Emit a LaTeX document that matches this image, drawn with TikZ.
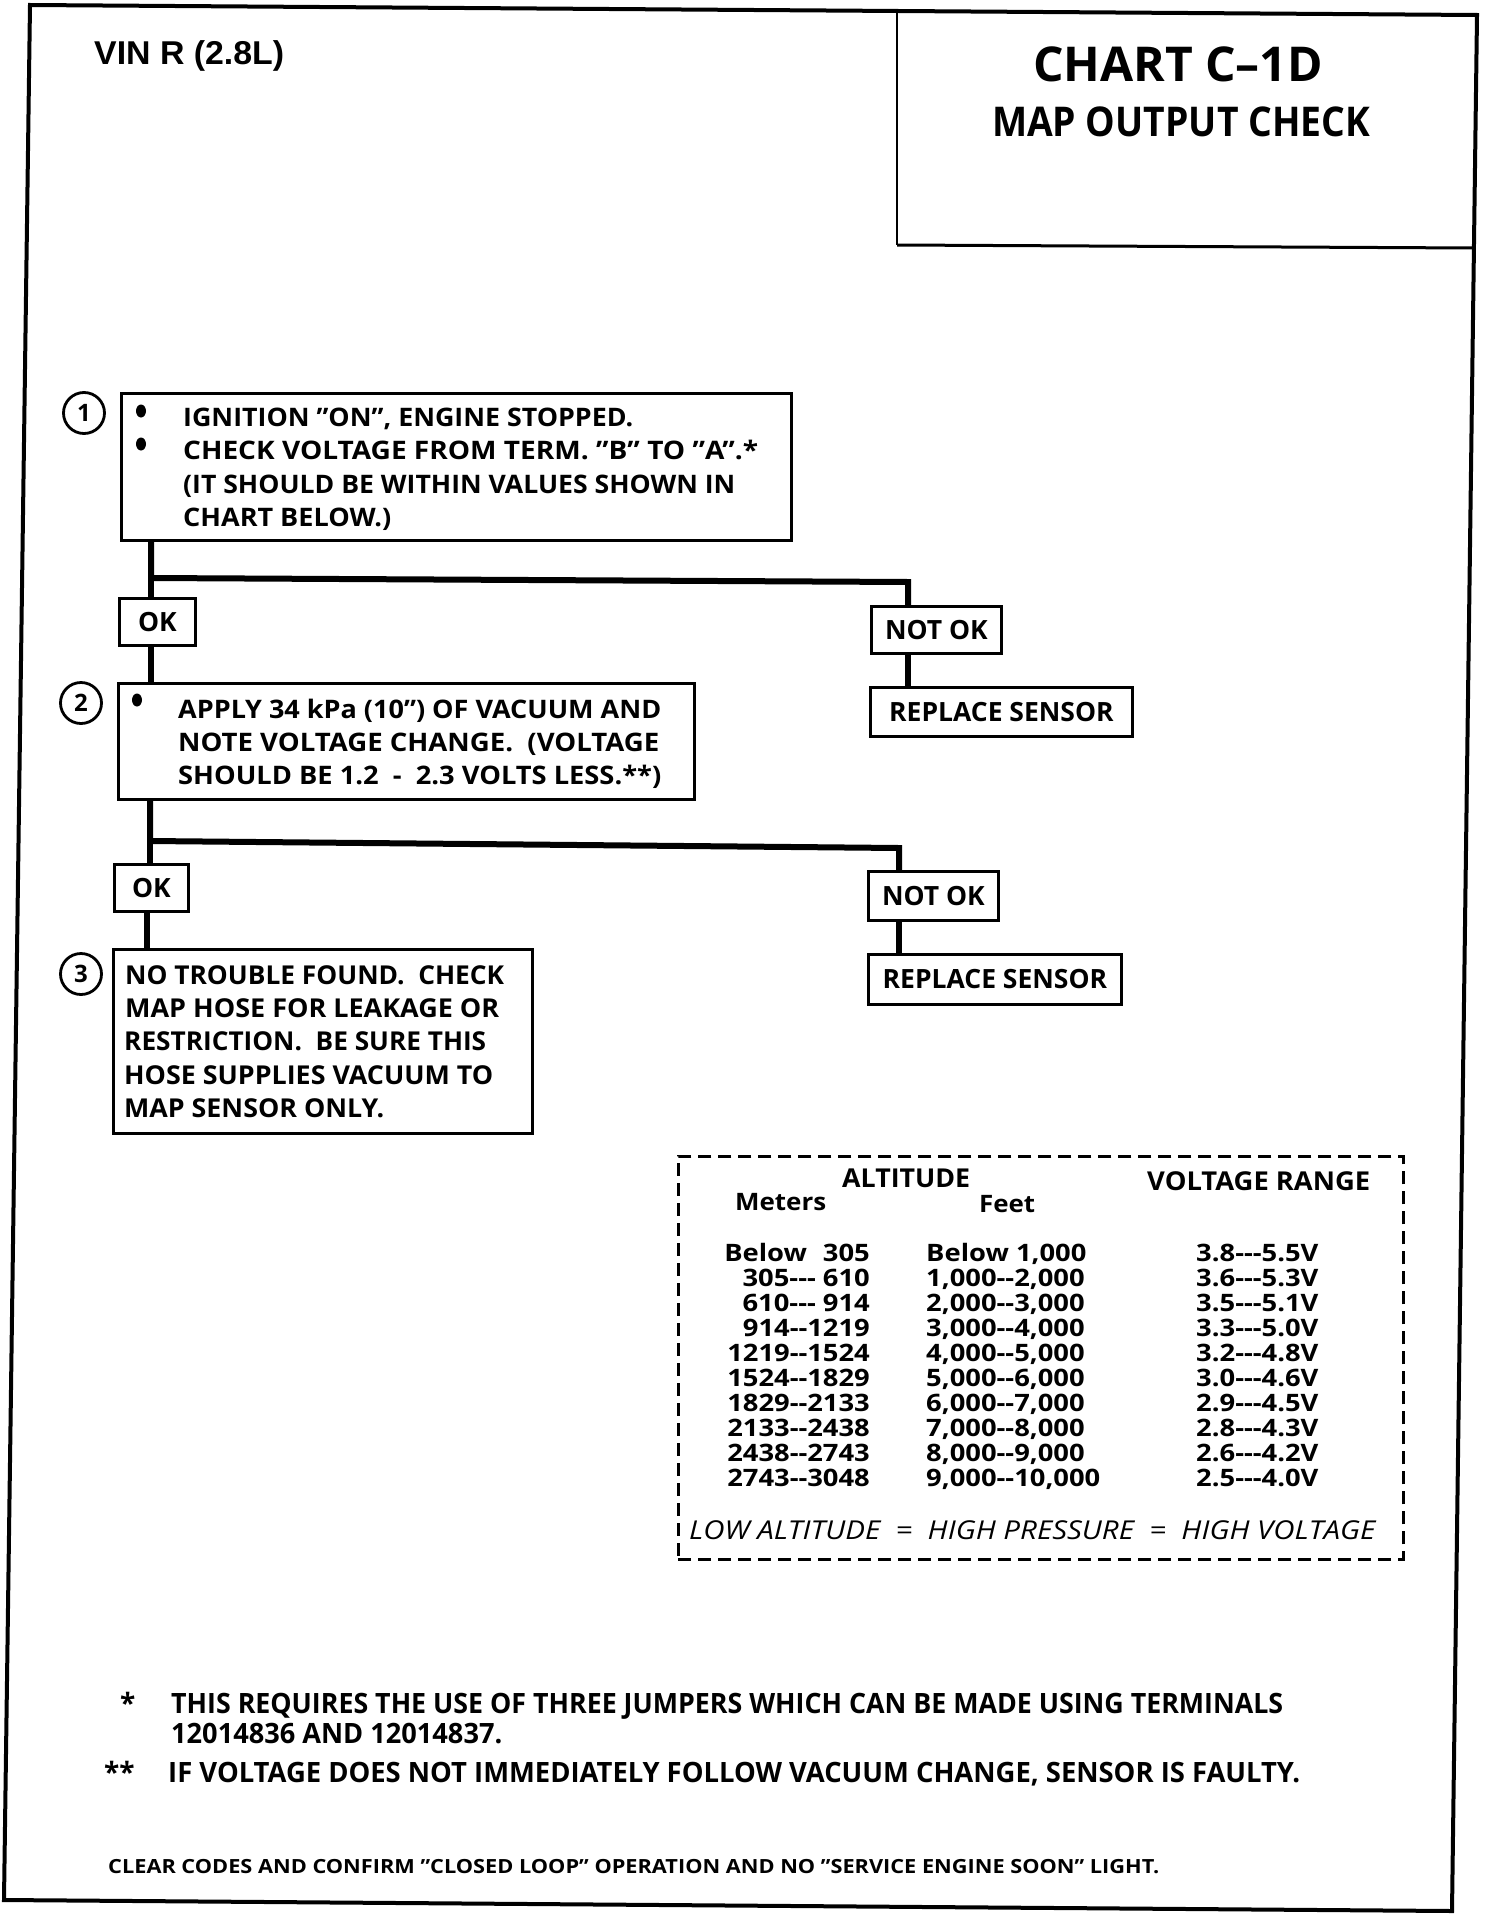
\documentclass[tikz,border=0pt]{standalone}
\usepackage{fontspec}
\setmainfont{Open Sans}
\newfontfamily\vinfont{Liberation Sans}
\usetikzlibrary{calc,shapes.geometric}
\newcommand\hy{\mbox{-}}
\newcommand\fsz[2]{\fontsize{#1}{#2}\selectfont\bfseries}
\newcommand\fit[2]{\resizebox{#1pt}{\height}{#2}}
\newcommand\wid[1]{\scalebox{1.14}[1]{#1}}
\begin{document}
\begin{tikzpicture}[x=1pt,y=-1pt,
  box/.style={draw, line width=2.8pt, inner sep=0pt, anchor=north west},
  lab/.style={box, font=\fsz{26.5}{30}},
  conn/.style={line width=6pt},
  txt/.style={inner sep=0pt, anchor=base west},
  num/.style={draw, circle, line width=2.8pt, inner sep=0pt, minimum size=41pt, font=\fsz{24}{24}},
  bul/.style={fill, ellipse, inner sep=0pt, minimum width=10pt, minimum height=13pt},
  tab/.style={draw, line width=2.5pt, dash pattern=on 13pt off 7pt, inner sep=0pt, anchor=north west},
  btxt/.style={txt, font=\fsz{25.5}{30}},
  rtxt/.style={inner sep=0pt, font=\fsz{24}{25}},
  ftxt/.style={txt, font=\fsz{28}{30}},
]
\useasboundingbox (0,0) rectangle (1504,1924);
\fill[white] (0,0) rectangle (1504,1924);

% outer frame and title box
\draw[line width=4pt, line join=miter] (30,5) -- (1477,15) -- (1452,1911) -- (4,1900) -- cycle;
\draw[line width=2pt] (897,11) -- (897,245);
\draw[line width=3pt] (897,245) -- (1474,248);

\node[txt, font=\vinfont\bfseries\fontsize{33}{34}\selectfont] (vin) at (94,65) {\fit{190}{VIN R (2.8L)}};
\node[anchor=base, inner sep=0pt, font=\fsz{48}{50}] (title) at (1178,82) {CHART C–1D};
\node[anchor=base, inner sep=0pt, font=\fsz{41}{44}] (subtitle) at (1181,137) {\fit{378}{MAP OUTPUT CHECK}};

% step 1
\node[num] (c1) at (84,413) {1};
\node[box, minimum width=670pt, minimum height=147pt] (b1) at (120,392) {};
\node[bul] (u1) at (141,411) {};
\node[bul] (u2) at (141,444) {};
\node[btxt] (t1a) at (183,426) {\fit{450}{IGNITION "ON", ENGINE STOPPED.}};
\node[btxt] (t1b) at (183,459.5) {\fit{575}{CHECK VOLTAGE FROM TERM. "B" TO "A".*}};
\node[btxt] (t1c) at (183,493) {\fit{552}{(IT SHOULD BE WITHIN VALUES SHOWN IN}};
\node[btxt] (t1d) at (183,526) {\fit{208}{CHART BELOW.)}};

\node[lab, minimum width=76pt, minimum height=47pt] (ok1) at (118,597) {OK};
\node[lab, minimum width=130pt, minimum height=47pt] (n1) at (870,605) {NOT OK};
\node[lab, minimum width=262pt, minimum height=49pt] (rs1) at (869,686) {REPLACE SENSOR};

\coordinate (j1) at (151,578);
\coordinate (r1) at (908,582);
\draw[conn] (j1 |- b1.south) -- (j1) -- (r1) -- (r1 |- n1.north);
\draw[conn] (j1) -- (j1 |- ok1.north);
\draw[conn] (r1 |- n1.south) -- (r1 |- rs1.north);

% step 2
\node[num] (c2) at (81,703) {2};
\node[box, minimum width=576pt, minimum height=116pt] (b2) at (117,682) {};
\node[bul] (u3) at (137,700) {};
\node[btxt] (t2a) at (178,718) {\fit{483}{APPLY 34 kPa (10") OF VACUUM AND}};
\node[btxt] (t2b) at (178,751) {\fit{481}{NOTE VOLTAGE CHANGE.\ \ (VOLTAGE}};
\node[btxt] (t2c) at (178,784) {\fit{483}{SHOULD BE 1.2\ \ -\ \ 2.3 VOLTS LESS.**)}};
\coordinate (v1) at (151,0);
\draw[conn] (v1 |- ok1.south) -- (v1 |- b2.north);

\node[lab, minimum width=74pt, minimum height=47pt] (ok2) at (113,863) {OK};
\node[lab, minimum width=130pt, minimum height=49pt] (n2) at (867,870) {NOT OK};
\node[lab, minimum width=253pt, minimum height=50pt] (rs2) at (867,953) {REPLACE SENSOR};

\coordinate (j2) at (150,841);
\coordinate (r2) at (899,848);
\draw[conn] (j2 |- b2.south) -- (j2) -- (r2) -- (r2 |- n2.north);
\draw[conn] (j2) -- (j2 |- ok2.north);
\draw[conn] (r2 |- n2.south) -- (r2 |- rs2.north);

% step 3
\node[num] (c3) at (81,974) {3};
\node[box, minimum width=419pt, minimum height=184pt] (b3) at (112,948) {};
\node[btxt, font=\fsz{26}{30}] (t3a) at (125,984) {\fit{379}{NO TROUBLE FOUND.\ \ CHECK}};
\node[btxt, font=\fsz{26}{30}] (t3b) at (125,1017) {\fit{374}{MAP HOSE FOR LEAKAGE OR}};
\node[btxt, font=\fsz{26}{30}] (t3c) at (124,1050.5) {\fit{362}{RESTRICTION.\ \ BE SURE THIS}};
\node[btxt, font=\fsz{26}{30}] (t3d) at (124,1084) {\fit{369}{HOSE SUPPLIES VACUUM TO}};
\node[btxt, font=\fsz{26}{30}] (t3e) at (124,1117) {\fit{260}{MAP SENSOR ONLY.}};
\coordinate (v2) at (147,0);
\draw[conn] (v2 |- ok2.south) -- (v2 |- b3.north);

% table
\node[tab, minimum width=725pt, minimum height=403pt] (tbl) at (677,1155) {};
\node[txt, font=\fsz{26}{28}] (halt) at (842,1187) {\fit{128}{ALTITUDE}};
\node[txt, font=\fsz{26}{28}] (hvolt) at (1147,1190) {\fit{223}{VOLTAGE RANGE}};
\node[txt, font=\fsz{24}{26}] (hm) at (735,1210) {\fit{91}{Meters}};
\node[txt, font=\fsz{24}{26}] (hf) at (979,1212) {\fit{56}{Feet}};
\foreach \m/\f/\v [count=\i] in {
  {Below\hspace{14pt}305}/{Below 1,000}/{3.8\hy\hy\hy5.5V},
  {305\hy\hy\hy\ 610}/{1,000\hy\hy2,000}/{3.6\hy\hy\hy5.3V},
  {610\hy\hy\hy\ 914}/{2,000\hy\hy3,000}/{3.5\hy\hy\hy5.1V},
  {914\hy\hy1219}/{3,000\hy\hy4,000}/{3.3\hy\hy\hy5.0V},
  {1219\hy\hy1524}/{4,000\hy\hy5,000}/{3.2\hy\hy\hy4.8V},
  {1524\hy\hy1829}/{5,000\hy\hy6,000}/{3.0\hy\hy\hy4.6V},
  {1829\hy\hy2133}/{6,000\hy\hy7,000}/{2.9\hy\hy\hy4.5V},
  {2133\hy\hy2438}/{7,000\hy\hy8,000}/{2.8\hy\hy\hy4.3V},
  {2438\hy\hy2743}/{8,000\hy\hy9,000}/{2.6\hy\hy\hy4.2V},
  {2743\hy\hy3048}/{9,000\hy\hy10,000}/{2.5\hy\hy\hy4.0V}} {
  \node[rtxt, anchor=base east] (m\i) at (870,1236+25*\i) {\wid{\m}};
  \node[rtxt, anchor=base west] (f\i) at (926,1236+25*\i) {\wid{\f}};
  \node[rtxt, anchor=base west] (v\i) at (1196,1236+25*\i) {\wid{\v}};
}
\node[txt, font=\fontsize{26}{28}\selectfont\itshape] (low) at (689,1539) {\fit{686}{LOW ALTITUDE\ \ =\ \ HIGH PRESSURE\ \ =\ \ HIGH VOLTAGE}};

% footnotes
\node[ftxt] (s1) at (120,1713) {*};
\node[ftxt] (fn1) at (171,1713) {\fit{1112}{THIS REQUIRES THE USE OF THREE JUMPERS WHICH CAN BE MADE USING TERMINALS}};
\node[ftxt] (fn2) at (171,1743) {\fit{331}{12014836 AND 12014837.}};
\node[ftxt] (s2) at (104,1782) {**};
\node[ftxt] (fn3) at (168,1782) {\fit{1132}{IF VOLTAGE DOES NOT IMMEDIATELY FOLLOW VACUUM CHANGE, SENSOR IS FAULTY.}};
\node[txt, font=\fsz{19.5}{22}] (clr) at (108,1873) {\fit{1051}{CLEAR CODES AND CONFIRM "CLOSED LOOP" OPERATION AND NO "SERVICE ENGINE SOON" LIGHT.}};
\end{tikzpicture}
\end{document}
